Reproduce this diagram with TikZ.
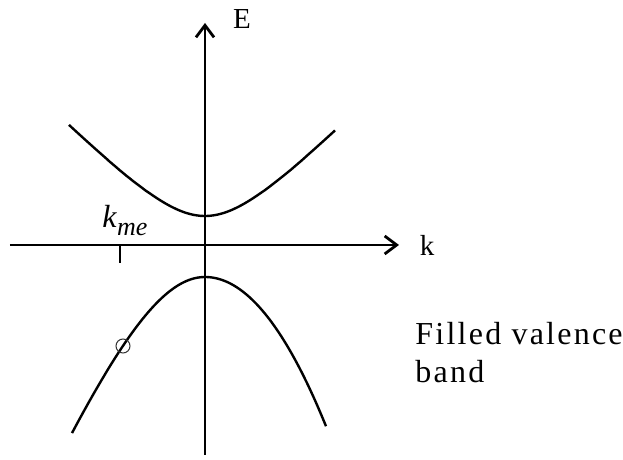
\documentclass[tikz,border=0pt]{standalone}
\usepackage{fontspec}
\setmainfont{Liberation Serif}
\usetikzlibrary{arrows.meta}
\tikzset
{
  axis/.style={draw=black,line width=1.4pt,-{Straight Barb[length=6pt,width=9pt,line width=1.4pt]}},
  band/.style={draw=black,line width=1.2pt},
  lbl/.style={font=\fontsize{14.5}{17}\selectfont},
  note/.style={font=\fontsize{16}{19}\selectfont\addfontfeature{LetterSpace=7}}
}

\begin{document}
\begin{tikzpicture}[x=0.5pt,y=-0.5pt]
        \useasboundingbox (0,0) rectangle (623,460);

        % Axes
        \coordinate (kleft) at (10,245);
        \coordinate (kright) at (399,245);
        \coordinate (ebottom) at (205,455);
        \coordinate (etop) at (205,23);
        \draw[axis] (kleft) -- (kright);
        \draw[axis] (ebottom) -- (etop);
        \node[lbl] (klabel) at (427,245) {k};
        \node[lbl] (elabel) at (242,19) {E};

        % Conduction band
        \draw[band,domain=-136:130,samples=80]
            plot (205+\x,{216-(veclen(56,\x)-56)});

        % Valence band
        \draw[band] plot[domain=-133:0,samples=50] (205+\x,{277+2.35*(veclen(100,\x)-100)})
            -- plot[domain=0:121,samples=50] (205+\x,{277+0.0102*\x*\x});

        % Marked point
        \coordinate (tickbase) at (120,246);
        \draw[line width=1.1pt] (tickbase) -- ++(0,17);
        \node[font=\fontsize{16}{19}\selectfont,inner sep=0pt,anchor=base west] (kme) at (102,228)
            {\textit{k}\raisebox{-4pt}{\fontsize{13}{15}\selectfont\textit{me}}};
        \node[circle,draw=black!80,line width=0.5pt,inner sep=0pt,minimum size=7pt] (hole) at (123,346) {};

        % Label
        \node[note,anchor=base west,inner sep=0pt] (valence) at (415,345) {Filled valence};
        \node[note,anchor=base west,inner sep=0pt] (bandlbl) at (415,383) {band};
    \end{tikzpicture}
\end{document}
